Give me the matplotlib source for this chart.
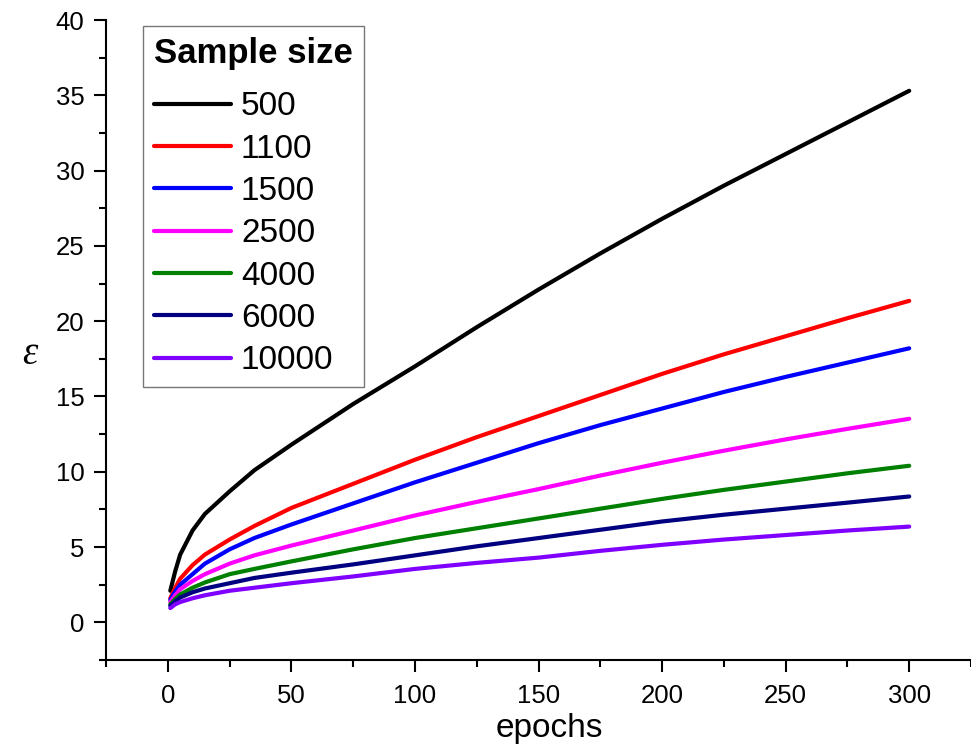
import numpy as np
import matplotlib
matplotlib.use('Agg')
import matplotlib.pyplot as plt
from matplotlib.ticker import MultipleLocator

plt.rcParams['font.family'] = ['Liberation Sans', 'DejaVu Sans']

# values
epochs = [1, 3, 5, 10, 15, 25, 35, 50, 75, 100, 125, 150, 175, 200, 225, 250, 275, 300]
sample_sizes = ['500', '1100', '1500', '2500', '4000', '6000', '10000']
eps_500 = [2.1, 3.4, 4.5, 6.1, 7.2, 8.7, 10.1, 11.8, 14.5, 17.0, 19.6, 22.1, 24.5, 26.8, 29.0, 31.1, 33.2, 35.3]
eps_1100 = [1.6, 2.3, 2.9, 3.8, 4.5, 5.5, 6.4, 7.6, 9.2, 10.8, 12.3, 13.7, 15.1, 16.5, 17.8, 19.0, 20.2, 21.35]
eps_1500 = [1.5, 2.05, 2.5, 3.2, 3.9, 4.85, 5.6, 6.5, 7.9, 9.3, 10.6, 11.9, 13.1, 14.2, 15.3, 16.3, 17.25, 18.2]
eps_2500 = [1.35, 1.8, 2.2, 2.75, 3.2, 3.9, 4.45, 5.1, 6.1, 7.1, 8.0, 8.85, 9.75, 10.6, 11.4, 12.15, 12.85, 13.52]
eps_4000 = [1.2, 1.55, 1.85, 2.3, 2.65, 3.2, 3.55, 4.05, 4.85, 5.6, 6.25, 6.9, 7.55, 8.2, 8.8, 9.35, 9.9, 10.4]
eps_6000 = [1.1, 1.4, 1.65, 2.0, 2.25, 2.6, 2.95, 3.3, 3.85, 4.45, 5.05, 5.6, 6.15, 6.7, 7.15, 7.55, 7.95, 8.36]
eps_10000 = [0.95, 1.2, 1.35, 1.6, 1.8, 2.1, 2.3, 2.6, 3.05, 3.55, 3.95, 4.3, 4.75, 5.15, 5.5, 5.8, 6.1, 6.36]

series = [eps_500, eps_1100, eps_1500, eps_2500, eps_4000, eps_6000, eps_10000]
colors = ['#000000', '#FF0000', '#0000FF', '#FF00FF', '#008000', '#000080', '#8000FF']

fig = plt.figure(figsize=(9.71, 7.52), dpi=100)
ax = fig.add_axes([0.1092, 0.1223, 0.8908, 0.8511])

for vals, name, c in zip(series, sample_sizes, colors):
    ax.plot(epochs, vals, color=c, lw=3.0, label=name,
            solid_capstyle='round', solid_joinstyle='round')

ax.set_xlim(-25, 325)
ax.set_ylim(-2.5, 40)
ax.xaxis.set_major_locator(MultipleLocator(50))
ax.xaxis.set_minor_locator(MultipleLocator(25))
ax.yaxis.set_major_locator(MultipleLocator(5))
ax.yaxis.set_minor_locator(MultipleLocator(2.5))

for side in ['top', 'right']:
    ax.spines[side].set_visible(False)
for side in ['left', 'bottom']:
    ax.spines[side].set_linewidth(1.5)

ax.tick_params(which='major', direction='out', length=8.6, width=1.5,
               labelsize=18.5, pad=7)
ax.tick_params(axis='x', which='major', pad=9)
ax.tick_params(which='minor', direction='out', length=5, width=1.5)

ax.set_xlabel('epochs', fontsize=24)
ax.xaxis.set_label_coords(0.513, -0.107)
ax.xaxis.label.set_va('center')
ax.set_ylabel('ε', fontsize=28, rotation=0, family='Liberation Serif',
              style='italic', va='center', ha='center')
ax.yaxis.set_label_coords(-0.088, 0.477)

leg = ax.legend(title='Sample size', loc='upper left',
                bbox_to_anchor=(0.043, 0.99), borderaxespad=0,
                fontsize=24, handlelength=2.3, handletextpad=0.3,
                labelspacing=0.34, fancybox=False, edgecolor='#555555',
                alignment='left', borderpad=0.33)
leg.get_title().set_fontsize(25)
leg.get_title().set_fontweight('bold')
leg.get_frame().set_linewidth(1.0)
for line in leg.get_lines():
    line.set_linewidth(3.0)
# a bit more room between title and the entries
leg._legend_box.sep = 0.34 * 24 + 7

fig.savefig('out.png', dpi=100)
